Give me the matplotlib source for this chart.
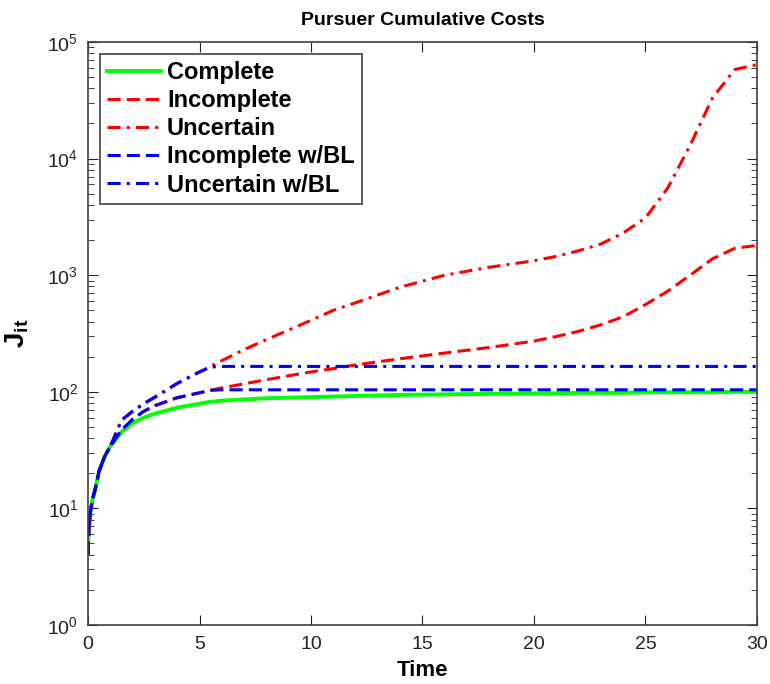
import matplotlib
matplotlib.use("Agg")
import matplotlib.pyplot as plt
from matplotlib.ticker import LogLocator, NullFormatter

plt.rcParams['font.family'] = ['Liberation Sans', 'DejaVu Sans']
plt.rcParams['mathtext.fontset'] = 'custom'
plt.rcParams['mathtext.rm'] = 'Liberation Sans'
plt.rcParams['mathtext.bf'] = 'Liberation Sans:bold'

# time samples (shared by all series)
t = [0, 0.05, 0.1, 0.2, 0.3, 0.5, 0.75, 1, 1.5, 2, 2.5, 3, 4, 5, 5.5, 6, 7, 8,
     10, 11, 12, 14, 16, 18, 20, 21, 22, 23, 24, 25, 26, 27, 28, 29, 30]

complete = [5, 7, 9, 12, 14, 21, 28, 34, 45, 54, 60, 65, 73, 79, 82, 84, 86, 88,
            90, 91, 92, 94, 95, 96, 97, 97, 98, 98, 98, 99, 99, 99, 99, 100, 100]

incomplete = [4, 7, 9, 12, 14, 21, 28, 34, 47, 58, 68, 76, 89, 98, 103, 108, 117, 127,
              148, 158, 170, 192, 215, 240, 272, 298, 330, 375, 440, 560, 730, 1000, 1380, 1700, 1800]

uncertain = [4, 7, 9, 12, 14, 21, 28, 34, 57, 68, 79, 90, 118, 148, 165, 185, 230, 280,
             410, 500, 580, 790, 1000, 1170, 1330, 1450, 1620, 1850, 2300, 3100, 5600, 13000, 33000, 58000, 64000]

incomplete_bl = [4, 7, 9, 12, 14, 21, 28, 34, 47, 58, 68, 76, 89, 98, 103, 104, 104, 104,
                 104, 104, 104, 104, 104, 104, 104, 104, 104, 104, 104, 104, 104, 104, 104, 104, 104]

uncertain_bl = [4, 7, 9, 12, 14, 21, 28, 34, 57, 68, 79, 90, 118, 148, 163, 165, 165, 165,
                165, 165, 165, 165, 165, 165, 165, 165, 165, 165, 165, 165, 165, 165, 165, 165, 165]

fig = plt.figure(figsize=(7.7, 6.84), dpi=100)
ax = fig.add_axes([0.1143, 0.0863, 0.8688, 0.8523])

lw = 2.2
dash = (4.3, 2.0)
dashdot = (4.3, 2.0, 1.0, 2.0)
ax.plot(t, complete, color='#00ff00', lw=2.8, label='Complete')
ax.plot(t, incomplete, color='#ff0000', lw=lw, dashes=dash, label='Incomplete')
ax.plot(t, uncertain, color='#ff0000', lw=lw, dashes=dashdot, label='Uncertain')
ax.plot(t, incomplete_bl, color='#0000ff', lw=lw, dashes=dash, label='Incomplete w/BL')
ax.plot(t, uncertain_bl, color='#0000ff', lw=lw, dashes=dashdot, label='Uncertain w/BL')

ax.set_yscale('log')
ax.set_xlim(0, 30)
ax.set_ylim(1, 1e5)
ax.set_xticks([0, 5, 10, 15, 20, 25, 30])
ax.yaxis.set_major_locator(LogLocator(base=10, numticks=10))
ax.yaxis.set_minor_locator(LogLocator(base=10, subs=range(2, 10), numticks=100))
ax.yaxis.set_minor_formatter(NullFormatter())

ax.tick_params(which='both', direction='in', top=True, right=True, labelsize=14, colors='#222222')
ax.tick_params(axis='x', pad=8)
ax.tick_params(axis='y', pad=7)
ax.tick_params(which='major', length=7)
ax.tick_params(which='minor', length=4)
for s in ax.spines.values():
    s.set_color('#404040')
    s.set_linewidth(1.2)

ax.set_title('Pursuer Cumulative Costs', fontsize=14, fontweight='bold', pad=12)
ax.set_xlabel('Time', fontsize=16, fontweight='bold', labelpad=5)
ax.set_ylabel('$\\mathbf{J_{it}}$', fontsize=20, labelpad=12)

leg = ax.legend(loc='upper left', fancybox=False, framealpha=1, edgecolor='#404040',
                prop={'weight': 'bold', 'size': 17}, handlelength=2.3,
                borderpad=0.3, labelspacing=0.22, handletextpad=0.25,
                borderaxespad=0.5)
leg.get_frame().set_linewidth(1.2)

fig.savefig('out.png', dpi=100)
